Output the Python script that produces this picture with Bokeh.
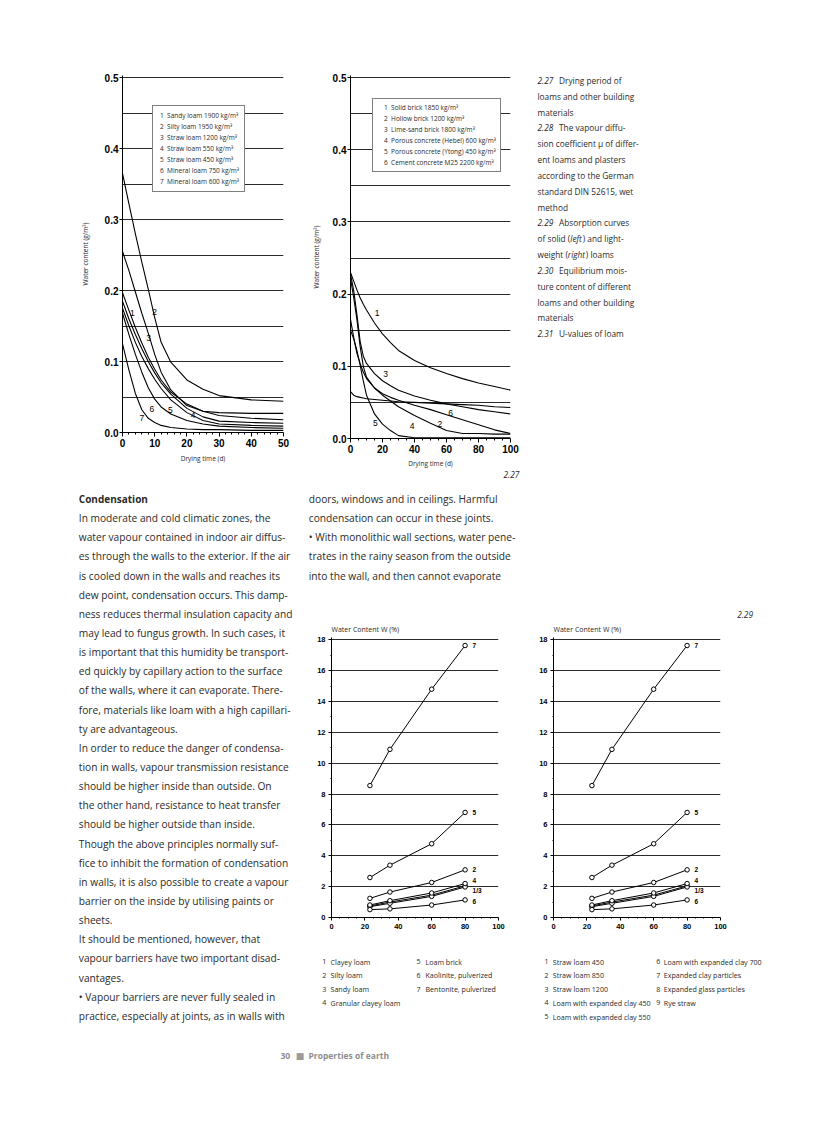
from bokeh.plotting import figure
from bokeh.models import Range1d, FixedTicker, PrintfTickFormatter, Legend, LegendItem, Label, Spacer
from bokeh.layouts import row, column
from bokeh.embed import file_html
from bokeh.resources import INLINE
from bokeh.core.properties import value

TXT = "Open Sans"
SANS = "Liberation Sans"
INK = "#2a2a2a"

# ---------------- data: 2.27 left (loams) ----------------
loam_days = [0, 2, 4, 6, 8, 10, 12, 15, 20, 25, 30, 40, 50]
loam_sandy_1900 = [0.197, 0.172, 0.148, 0.126, 0.106, 0.089, 0.074, 0.057, 0.040, 0.030, 0.024, 0.020, 0.018]
loam_silty_1950 = [0.365, 0.322, 0.280, 0.240, 0.202, 0.162, 0.127, 0.099, 0.074, 0.061, 0.052, 0.046, 0.044]
loam_straw_1200 = [0.255, 0.228, 0.198, 0.168, 0.140, 0.110, 0.085, 0.060, 0.038, 0.030, 0.028, 0.027, 0.027]
loam_straw_550 = [0.185, 0.160, 0.138, 0.118, 0.100, 0.084, 0.070, 0.054, 0.034, 0.022, 0.016, 0.014, 0.013]
loam_straw_450 = [0.175, 0.150, 0.127, 0.107, 0.090, 0.075, 0.062, 0.046, 0.028, 0.017, 0.012, 0.010, 0.009]
loam_mineral_750 = [0.168, 0.138, 0.110, 0.085, 0.063, 0.047, 0.036, 0.026, 0.017, 0.012, 0.009, 0.007, 0.006]
loam_mineral_600 = [0.125, 0.088, 0.055, 0.032, 0.020, 0.014, 0.010, 0.007, 0.005, 0.004, 0.004, 0.003, 0.003]
loam_legend = ["1  Sandy loam 1900 kg/m³", "2  Silty loam 1950 kg/m³", "3  Straw loam 1200 kg/m³",
               "4  Straw loam 550 kg/m³", "5  Straw loam 450 kg/m³", "6  Mineral loam 750 kg/m³",
               "7  Mineral loam 600 kg/m³"]
loam_tags = ["1", "2", "3", "4", "5", "6", "7"]
loam_tag_x = [3.1, 10.0, 8.1, 21.9, 14.9, 9.1, 6.0]
loam_tag_y = [0.168, 0.170, 0.133, 0.025, 0.031, 0.033, 0.021]

# ---------------- data: 2.27 right (other materials) ----------------
brick_days = [0, 2, 4, 6, 8, 10, 15, 20, 25, 30, 40, 50, 60, 70, 80, 90, 100]
brick_solid_1850 = [0.230, 0.218, 0.206, 0.195, 0.186, 0.178, 0.160, 0.145, 0.133, 0.122, 0.108, 0.098, 0.090, 0.083, 0.077, 0.072, 0.067]
brick_hollow_1200 = [0.222, 0.195, 0.165, 0.128, 0.100, 0.085, 0.070, 0.062, 0.057, 0.053, 0.046, 0.040, 0.033, 0.026, 0.019, 0.012, 0.007]
brick_limesand_1800 = [0.228, 0.205, 0.172, 0.135, 0.114, 0.104, 0.090, 0.080, 0.073, 0.067, 0.059, 0.053, 0.048, 0.044, 0.040, 0.037, 0.034]
concrete_hebel_600 = [0.165, 0.140, 0.118, 0.104, 0.092, 0.083, 0.070, 0.060, 0.052, 0.044, 0.032, 0.021, 0.011, 0.007, 0.007, 0.006, 0.006]
concrete_ytong_450 = [0.150, 0.138, 0.122, 0.102, 0.080, 0.060, 0.034, 0.020, 0.011, 0.004, 0.001, 0.001, 0.001, 0.001, 0.001, 0.001, 0.001]
concrete_m25_2200 = [0.065, 0.060, 0.058, 0.057, 0.056, 0.055, 0.054, 0.053, 0.052, 0.051, 0.050, 0.049, 0.048, 0.047, 0.046, 0.044, 0.043]
brick_legend = ["1  Solid brick 1850 kg/m³", "2  Hollow brick 1200 kg/m³", "3  Lime-sand brick 1800 kg/m³",
                "4  Porous concrete (Hebel) 600 kg/m³", "5  Porous concrete (Ytong) 450 kg/m³",
                "6  Cement concrete M25 2200 kg/m³"]
brick_tags = ["1", "2", "3", "4", "5", "6"]
brick_tag_x = [16.7, 55.8, 21.9, 38.5, 15.6, 62.5]
brick_tag_y = [0.174, 0.020, 0.090, 0.018, 0.021, 0.036]

# ---------------- data: 2.29 absorption curves ----------------
rel_humidity = [23, 35, 60, 80]
absorb_1 = [0.75, 1.00, 1.45, 2.05]
absorb_2 = [1.24, 1.65, 2.27, 3.09]
absorb_3 = [0.70, 0.92, 1.37, 1.98]
absorb_4 = [0.81, 1.09, 1.59, 2.20]
absorb_5 = [2.59, 3.39, 4.78, 6.81]
absorb_6 = [0.51, 0.56, 0.81, 1.14]
absorb_7 = [8.55, 10.90, 14.80, 17.63]
absorb_tags = ["7", "5", "2", "4", "1/3", "6"]
absorb_tag_x = [84.5, 84.5, 84.5, 84.5, 84.5, 84.5]
absorb_tag_y = [17.63, 6.80, 3.09, 2.42, 1.74, 1.03]
solid_legend_a = ["Clayey loam", "Silty loam", "Sandy loam", "Granular clayey loam"]
solid_legend_b = ["Loam brick", "Kaolinite, pulverized", "Bentonite, pulverized"]
light_legend_a = ["Straw loam 450", "Straw loam 850", "Straw loam 1200",
                  "Loam with expanded clay 450", "Loam with expanded clay 550"]
light_legend_b = ["Loam with expanded clay 700", "Expanded clay particles",
                  "Expanded glass particles", "Rye straw"]

# ---------------- page text ----------------
body_col1 = [
    "Condensation",
    "In moderate and cold climatic zones, the",
    "water vapour contained in indoor air diffus-",
    "es through the walls to the exterior. If the air",
    "is cooled down in the walls and reaches its",
    "dew point, condensation occurs. This damp-",
    "ness reduces thermal insulation capacity and",
    "may lead to fungus growth. In such cases, it",
    "is important that this humidity be transport-",
    "ed quickly by capillary action to the surface",
    "of the walls, where it can evaporate. There-",
    "fore, materials like loam with a high capillari-",
    "ty are advantageous.",
    "In order to reduce the danger of condensa-",
    "tion in walls, vapour transmission resistance",
    "should be higher inside than outside. On",
    "the other hand, resistance to heat transfer",
    "should be higher outside than inside.",
    "Though the above principles normally suf-",
    "fice to inhibit the formation of condensation",
    "in walls, it is also possible to create a vapour",
    "barrier on the inside by utilising paints or",
    "sheets.",
    "It should be mentioned, however, that",
    "vapour barriers have two important disad-",
    "vantages.",
    "• Vapour barriers are never fully sealed in",
    "practice, especially at joints, as in walls with",
]
body_col2 = [
    "doors, windows and in ceilings. Harmful",
    "condensation can occur in these joints.",
    "• With monolithic wall sections, water pene-",
    "trates in the rainy season from the outside",
    "into the wall, and then cannot evaporate",
]
caption_lines = [
    [("2.27", "italic"), ("Drying period of", "normal")],
    [("loams and other building", "normal")],
    [("materials", "normal")],
    [("2.28", "italic"), ("The vapour diffu-", "normal")],
    [("sion coefficient μ of differ-", "normal")],
    [("ent loams and plasters", "normal")],
    [("according to the German", "normal")],
    [("standard DIN 52615, wet", "normal")],
    [("method", "normal")],
    [("2.29", "italic"), ("Absorption curves", "normal")],
    [("of solid (", "normal"), ("left", "italic"), (") and light-", "normal")],
    [("weight (", "normal"), ("right", "italic"), (") loams", "normal")],
    [("2.30", "italic"), ("Equilibrium mois-", "normal")],
    [("ture content of different", "normal")],
    [("loams and other building", "normal")],
    [("materials", "normal")],
    [("2.31", "italic"), ("U-values of loam", "normal")],
]

# approximate Open Sans advance widths (1/1000 em), used only to chain text runs
_W = {" ": 260, ".": 266, ",": 268, "-": 322, "(": 296, ")": 296, "/": 372, "μ": 620,
      "a": 556, "b": 613, "c": 476, "d": 613, "e": 561, "f": 336, "g": 541, "h": 615, "i": 253,
      "j": 253, "k": 529, "l": 253, "m": 930, "n": 615, "o": 601, "p": 613, "q": 613, "r": 408,
      "s": 478, "t": 353, "u": 615, "v": 500, "w": 778, "x": 524, "y": 500, "z": 469}


def text_width(s, size):
    return sum(_W.get(c, 600) for c in s) / 1000.0 * size


def text_fig(w, h, top=0, bottom=0):
    # frame in local pixel coordinates, y downwards
    p = figure(width=w, height=h, x_range=Range1d(0, w), y_range=Range1d(h - bottom, top),
               x_axis_type=None, y_axis_type=None,
               min_border_left=0, min_border_right=0,
               min_border_top=top, min_border_bottom=bottom,
               output_backend="svg", toolbar_location=None)
    p.outline_line_color = None
    p.background_fill_color = "white"
    p.border_fill_color = "white"
    return p


def chart_fig(w, h, xr, yr, left, right, top, bottom):
    p = figure(width=w, height=h, x_range=Range1d(*xr), y_range=Range1d(*yr),
               min_border_left=left, min_border_right=right,
               min_border_top=top, min_border_bottom=bottom,
               output_backend="svg", toolbar_location=None)
    p.outline_line_color = None
    p.background_fill_color = "white"
    p.border_fill_color = "white"
    p.xgrid.visible = False
    p.ygrid.grid_line_color = "#2b2b2b"
    p.ygrid.grid_line_width = 1
    for ax in (p.xaxis[0], p.yaxis[0]):
        ax.axis_line_color = "black"
        ax.axis_line_width = 1
        ax.major_tick_line_color = "black"
        ax.minor_tick_line_color = "black"
        ax.major_tick_in = 0
        ax.minor_tick_in = 0
    return p


def style_top_axes(p, xticks, xminor, ylab_standoff, xlab_standoff):
    p.xaxis.ticker = FixedTicker(ticks=xticks, minor_ticks=xminor)
    p.yaxis.ticker = FixedTicker(ticks=[0.0, 0.1, 0.2, 0.3, 0.4, 0.5],
                                 minor_ticks=[0.05, 0.15, 0.25, 0.35, 0.45])
    p.ygrid.ticker = FixedTicker(ticks=[0.05, 0.1, 0.15, 0.2, 0.25, 0.3, 0.35, 0.4, 0.45, 0.5])
    p.yaxis.formatter = PrintfTickFormatter(format="%.1f")
    p.xaxis.major_tick_out = 4
    p.xaxis.minor_tick_out = 2
    p.yaxis.major_tick_out = 3
    p.yaxis.minor_tick_out = 0
    p.xaxis.major_label_standoff = 2
    p.yaxis.major_label_standoff = 1
    for ax in (p.xaxis[0], p.yaxis[0]):
        ax.major_label_text_font = SANS
        ax.major_label_text_font_style = "bold"
        ax.major_label_text_font_size = "10px"
        ax.major_label_text_color = "black"
        ax.axis_label_text_font = TXT
        ax.axis_label_text_font_style = "normal"
        ax.axis_label_text_font_size = "6.5px"
        ax.axis_label_text_color = INK
    p.xaxis.axis_label = "Drying time (d)"
    p.yaxis.axis_label = "Water content (g/m³)"
    p.yaxis.axis_label_standoff = ylab_standoff
    p.xaxis.axis_label_standoff = xlab_standoff


def add_curves(p, xs, series, names, loc, pad, standoff):
    items = []
    for ys, name in zip(series, names):
        r = p.line(xs, ys, line_color="black", line_width=1.1)
        items.append(LegendItem(label=name, renderers=[r]))
    leg = Legend(items=items, location=loc, glyph_width=0, glyph_height=9,
                 label_height=9, label_standoff=standoff, spacing=2,
                 padding=pad, margin=0, border_line_color="black", border_line_width=1,
                 background_fill_color="white", background_fill_alpha=1.0,
                 label_text_font=TXT, label_text_font_size="6.5px",
                 label_text_color=INK)
    p.add_layout(leg)


def add_tags(p, xs, ys, tags, size="8.5px", bold=False, align="center"):
    p.text(xs, ys, text=tags, text_font=value(SANS), text_font_size=size,
           text_font_style="bold" if bold else "normal",
           text_align=align, text_baseline="middle", text_color="black")


# ---------------- figure 2.27 left ----------------
p1 = chart_fig(292, 462, (0, 50), (0, 0.503), 114, 17, 67, 38)
style_top_axes(p1, [0, 10, 20, 30, 40, 50],
               [2, 4, 6, 8, 12, 14, 16, 18, 22, 24, 26, 28, 32, 34, 36, 38, 42, 44, 46, 48], 12, 4)
add_curves(p1, loam_days,
           [loam_sandy_1900, loam_silty_1950, loam_straw_1200, loam_straw_550,
            loam_straw_450, loam_mineral_750, loam_mineral_600],
           loam_legend, (30, 240), 5, 2)
add_tags(p1, loam_tag_x, loam_tag_y, loam_tags)

# ---------------- figure 2.27 right ----------------
p2 = chart_fig(230, 462, (0, 100), (0, 0.503), 50, 20, 67, 32)
style_top_axes(p2, [0, 20, 40, 60, 80, 100],
               [5, 10, 15, 25, 30, 35, 45, 50, 55, 65, 70, 75, 85, 90, 95], 9, 3)
add_curves(p2, brick_days,
           [brick_solid_1850, brick_hollow_1200, brick_limesand_1800, concrete_hebel_600,
            concrete_ytong_450, concrete_m25_2200],
           brick_legend, (22, 266), 4, 7)
add_tags(p2, brick_tag_x, brick_tag_y, brick_tags)

# ---------------- caption column ----------------
capfig = text_fig(278, 462, top=67, bottom=32)
CAP_SIZE = 8.3
for i, segs in enumerate(caption_lines):
    x = 7.0
    y = 72.0 + i * 15.83
    for j, (s, style) in enumerate(segs):
        capfig.text([x], [y], text=[s], text_font=value(TXT), text_font_size=f"{CAP_SIZE}px",
                    text_font_style=style, text_baseline="middle", text_color=INK)
        if j == 0 and s.startswith("2.") and style == "italic":
            x += 21.5
        else:
            x += text_width(s, CAP_SIZE)

strip = text_fig(800, 12)
strip.text([495], [4], text=["2.27"], text_font=value(TXT), text_font_size=f"{CAP_SIZE}px",
           text_font_style="italic", text_baseline="middle", text_color=INK)

# ---------------- body text ----------------
BODY = "10.2px"
tf1 = text_fig(292, 553)
ys1 = [16.5 + i * 19.14 for i in range(len(body_col1))]
tf1.text([70.3], [ys1[0]], text=[body_col1[0]], text_font=value(TXT), text_font_size="10px",
         text_font_style="bold", text_baseline="middle", text_color=INK)
tf1.text([70.3] * (len(body_col1) - 1), ys1[1:], text=body_col1[1:], text_font=value(TXT),
         text_font_size=BODY, text_baseline="middle", text_color=INK)

tf2 = text_fig(508, 137)
ys2 = [16.5 + i * 19.14 for i in range(len(body_col2))]
tf2.text([8.3] * len(body_col2), ys2, text=body_col2, text_font=value(TXT),
         text_font_size=BODY, text_baseline="middle", text_color=INK)
tf2.text([452.5], [132], text=["2.29"], text_font=value(TXT), text_font_size=f"{CAP_SIZE}px",
         text_font_style="italic", text_align="right", text_baseline="middle", text_color=INK)


# ---------------- figure 2.29 ----------------
def absorption_fig(w, left, right):
    p = chart_fig(w, 331, (0, 100), (0, 18.15), left, right, 16, 33)
    p.xaxis.ticker = FixedTicker(ticks=[0, 20, 40, 60, 80, 100],
                                 minor_ticks=[5, 10, 15, 25, 30, 35, 45, 50, 55, 65, 70, 75, 85, 90, 95])
    p.yaxis.ticker = FixedTicker(ticks=[0, 2, 4, 6, 8, 10, 12, 14, 16, 18],
                                 minor_ticks=[1, 3, 5, 7, 9, 11, 13, 15, 17])
    p.ygrid.ticker = FixedTicker(ticks=[2, 4, 6, 8, 10, 12, 14, 16, 18])
    p.xaxis.major_tick_out = 3
    p.xaxis.minor_tick_out = 1
    p.yaxis.major_tick_out = 3
    p.yaxis.minor_tick_out = 1
    p.xaxis.major_label_standoff = 3
    p.yaxis.major_label_standoff = 3
    for ax in (p.xaxis[0], p.yaxis[0]):
        ax.major_label_text_font = SANS
        ax.major_label_text_font_style = "bold"
        ax.major_label_text_font_size = "7.5px"
        ax.major_label_text_color = "black"
    p.title.text = "Water Content W (%)"
    p.title.text_font = TXT
    p.title.text_font_style = "normal"
    p.title.text_font_size = "7px"
    p.title.text_color = INK
    p.title.align = "left"
    p.title.standoff = 7
    p.add_layout(Label(x=100, y=0, x_offset=5, y_offset=-22, text="Relative humidity (%)",
                       text_font=TXT, text_font_size="6.8px", text_color=INK,
                       text_align="right", text_baseline="middle"))
    for ys in (absorb_1, absorb_2, absorb_3, absorb_4, absorb_5, absorb_6, absorb_7):
        p.line(rel_humidity, ys, line_color="black", line_width=1.0)
        p.scatter(rel_humidity, ys, marker="circle", size=4.5, fill_color="white",
                  line_color="black", line_width=1)
    add_tags(p, absorb_tag_x, absorb_tag_y, absorb_tags, size="6.5px", bold=True, align="left")
    return p


p3 = absorption_fig(225, 31, 27)
p4 = absorption_fig(283, 28, 88)

# ---------------- legends under 2.29 ----------------
legfig = text_fig(508, 85)
LEG = "7.1px"


def legend_block(nums, labels, xn, xl):
    ys = [11 + i * 13.75 for i in range(len(labels))]
    legfig.text([xn] * len(labels), ys, text=nums, text_font=value(TXT), text_font_size=LEG,
                text_baseline="middle", text_color=INK)
    legfig.text([xl] * len(labels), ys, text=labels, text_font=value(TXT), text_font_size=LEG,
                text_baseline="middle", text_color=INK)


legend_block(["1", "2", "3", "4"], solid_legend_a, 21.7, 30)
legend_block(["5", "6", "7"], solid_legend_b, 116, 125)
legend_block(["1", "2", "3", "4", "5"], light_legend_a, 244, 252.3)
legend_block(["6", "7", "8", "9"], light_legend_b, 355.7, 363.3)

# ---------------- footer ----------------
foot = text_fig(800, 40)
foot.text([272], [20], text=["30"], text_font=value(TXT), text_font_size="8.5px",
          text_font_style="bold", text_baseline="middle", text_color="#8d8d8d")
foot.text([291.5], [20], text=["■"], text_font=value("DejaVu Sans"), text_font_size="9px",
          text_align="center", text_baseline="middle", text_color="#9a9a9a")
foot.text([300], [20], text=["Properties of earth"], text_font=value(TXT), text_font_size="8.5px",
          text_font_style="bold", text_baseline="middle", text_color="#8d8d8d")

page = column(
    row(column(p1), column(p2), column(capfig)),
    strip,
    row(tf1, column(tf2, row(p3, p4), legfig)),
    foot,
)
layout = column(Spacer(width=808, height=8), row(Spacer(width=8, height=1067), page))

open("out.html", "w").write(file_html(layout, INLINE))
